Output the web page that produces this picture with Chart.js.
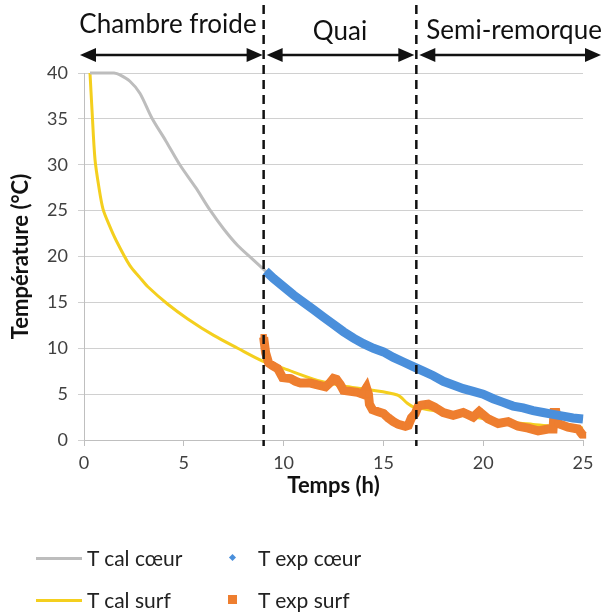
<!DOCTYPE html>
<html>
<head>
<meta charset="utf-8">
<script src="https://cdn.jsdelivr.net/npm/chart.js@4.4.1/dist/chart.umd.min.js"></script>
<title>Température chambre froide - quai - semi-remorque</title>
<style>
  body { margin: 0; background: #fff; }
  #wrap { position: relative; width: 607px; height: 614px; }
  .leg { position: absolute; height: 24px; line-height: 24px; font-family: Lato, sans-serif; font-size: 21px; color: #222; white-space: nowrap; }
  .trait { position: absolute; top: 11px; height: 3px; width: 46px; }
  .losange { position: absolute; top: 9px; width: 5px; height: 5px; transform: rotate(45deg); }
  .carre { position: absolute; top: 7px; width: 9px; height: 9px; }
</style>
</head>
<body>
<div id="wrap">
  <canvas id="myChart" width="607" height="614"></canvas>
  <div class="leg" style="left:36px; top:546px;"><span class="trait" style="left:0; background:#BDBDBD;"></span><span style="margin-left:51px;">T cal cœur</span></div>
  <div class="leg" style="left:228px; top:546px;"><span class="losange" style="left:2px; background:#4A8FDB;"></span><span style="margin-left:30px;">T exp cœur</span></div>
  <div class="leg" style="left:36px; top:588px;"><span class="trait" style="left:0; background:#F4CF1E;"></span><span style="margin-left:51px;">T cal surf</span></div>
  <div class="leg" style="left:228px; top:588px;"><span class="carre" style="left:0; background:#EE7E2F;"></span><span style="margin-left:30px;">T exp surf</span></div>
</div>
<script>
// T cal coeur (modèle)
var calCoeurTemps = [0.3, 1.0, 1.5, 1.8, 2.3, 2.8, 3.4, 4.1, 4.8, 5.6, 6.3, 7.0, 7.7, 8.4, 9.0, 10, 11, 12, 13, 14, 15, 16, 17, 18, 19, 20, 21, 22, 23, 24, 25];
var calCoeurVal = [40.0, 40.0, 40.0, 39.8, 39.1, 37.8, 35.1, 32.6, 30.0, 27.5, 25.1, 23.0, 21.2, 19.8, 18.6, 16.6, 14.9, 13.3, 11.8, 10.5, 9.5, 8.5, 7.5, 6.4, 5.6, 4.9, 4.1, 3.5, 3.0, 2.6, 2.3];

// T cal surf (modèle)
var calSurfTemps = [0.3, 0.35, 0.4, 0.55, 0.75, 0.95, 1.25, 1.6, 2.3, 2.8, 3.2, 4.2, 5.2, 6.5, 7.7, 8.95, 10.0, 11.7, 13.0, 14.2, 15.7, 16.2, 16.5, 17.0, 17.5, 18.5, 19.5, 20.5, 21.5, 22.5, 23.5, 24.5, 25.0];
var calSurfVal = [40.0, 38.0, 36.0, 30.6, 27.5, 25.2, 23.5, 21.8, 19.0, 17.7, 16.7, 14.8, 13.2, 11.4, 10.0, 8.6, 7.8, 6.5, 5.9, 5.5, 4.9, 4.0, 3.6, 3.4, 3.2, 2.8, 2.5, 2.2, 1.9, 1.7, 1.5, 1.4, 1.3];

// T exp coeur (mesures)
var expCoeurTemps = [9.1, 9.5, 10, 10.5, 11, 11.5, 12, 12.5, 13, 13.5, 14, 14.5, 15, 15.5, 16, 16.5, 17, 17.5, 18, 18.5, 19, 19.5, 20, 20.5, 21, 21.5, 22, 22.5, 23, 23.5, 24, 24.5, 25];
var expCoeurVal = [18.4, 17.6, 16.7, 15.8, 15.0, 14.2, 13.4, 12.6, 11.8, 11.1, 10.5, 10.0, 9.6, 9.0, 8.5, 8.0, 7.5, 7.0, 6.4, 6.0, 5.6, 5.3, 5.0, 4.5, 4.1, 3.7, 3.5, 3.2, 3.0, 2.8, 2.6, 2.4, 2.3];

// T exp surf (mesures)
var expSurfTemps = [9.0, 9.1, 9.25, 9.45, 9.7, 9.85, 9.95, 10.35, 10.6, 10.85, 11.35, 11.7, 12.1, 12.35, 12.5, 12.65, 12.85, 13.0, 13.35, 13.7, 13.95, 14.15, 14.25, 14.3, 14.45, 14.7, 15.0, 15.25, 15.5, 15.75, 16.1, 16.25, 16.4, 16.6, 16.75, 16.9, 17.25, 17.55, 18.0, 18.5, 19.0, 19.5, 19.8, 20.25, 20.75, 21.25, 21.75, 22.25, 22.75, 23.25, 23.5, 23.55, 23.65, 23.75, 24.25, 24.75, 25.0];
var expSurfVal = [11.2, 9.5, 8.4, 8.1, 7.8, 7.2, 6.8, 6.7, 6.4, 6.2, 6.2, 6.0, 5.8, 6.3, 6.7, 6.6, 6.0, 5.4, 5.3, 5.2, 5.0, 5.7, 5.0, 3.9, 3.3, 3.1, 2.9, 2.4, 2.0, 1.7, 1.5, 1.6, 2.4, 2.9, 3.7, 3.8, 3.9, 3.6, 3.0, 2.7, 3.0, 2.5, 3.1, 2.3, 1.8, 2.0, 1.5, 1.3, 1.0, 1.2, 1.2, 3.0, 3.0, 1.8, 1.4, 1.2, 0.5];

// zones
var limites = [9.0, 16.65];
var zones = ['Chambre froide', 'Quai', 'Semi-remorque'];

function points(xs, ys) {
  return xs.map(function (x, i) { return {x: x, y: ys[i]}; });
}

function fleche(ctx, a, b, y) {
  var L = 16, H = 7;
  ctx.beginPath();
  ctx.moveTo(a + L - 2, y);
  ctx.lineTo(b - L + 2, y);
  ctx.stroke();
  ctx.beginPath();
  ctx.moveTo(a, y); ctx.lineTo(a + L, y - H); ctx.lineTo(a + L, y + H); ctx.closePath();
  ctx.fill();
  ctx.beginPath();
  ctx.moveTo(b, y); ctx.lineTo(b - L, y - H); ctx.lineTo(b - L, y + H); ctx.closePath();
  ctx.fill();
}

var zonesPlugin = {
  id: 'zones',
  afterDraw: function (chart) {
    var ctx = chart.ctx;
    var area = chart.chartArea;
    var x1 = chart.scales.x.getPixelForValue(limites[0]);
    var x2 = chart.scales.x.getPixelForValue(limites[1]);
    ctx.save();
    ctx.strokeStyle = '#111';
    ctx.fillStyle = '#111';
    ctx.lineWidth = 2.5;
    ctx.setLineDash([9, 6]);
    [x1, x2].forEach(function (px) {
      ctx.beginPath();
      ctx.moveTo(px, 5);
      ctx.lineTo(px, area.bottom + 6);
      ctx.stroke();
    });
    ctx.setLineDash([]);
    var y = 55;
    fleche(ctx, area.left - 4, x1 - 1, y);
    fleche(ctx, x1 + 3, x2 - 2, y);
    fleche(ctx, x2 + 3, area.right + 18, y);

    ctx.font = '26px Lato';
    ctx.textBaseline = 'alphabetic';
    ctx.textAlign = 'right';
    ctx.fillText(zones[0], x1 - 7, 33);
    ctx.textAlign = 'center';
    ctx.fillText(zones[1], (x1 + x2) / 2, 40);
    ctx.textAlign = 'left';
    ctx.fillText(zones[2], x2 + 10, 39);
    ctx.restore();
  }
};

var chart = new Chart(document.getElementById('myChart'), {
  type: 'scatter',
  data: {
    datasets: [{
      label: 'T exp cœur',
      data: points(expCoeurTemps, expCoeurVal),
      showLine: true,
      borderColor: '#4A8FDB',
      backgroundColor: '#4A8FDB',
      borderWidth: 9,
      pointRadius: 0,
      clip: false
    }, {
      label: 'T exp surf',
      data: points(expSurfTemps, expSurfVal),
      showLine: true,
      borderColor: '#EE7E2F',
      backgroundColor: '#EE7E2F',
      borderWidth: 9,
      borderJoinStyle: 'miter',
      pointStyle: 'rect',
      pointRadius: 4.5,
      pointBorderWidth: 0,
      clip: false
    }, {
      label: 'T cal cœur',
      data: points(calCoeurTemps, calCoeurVal),
      showLine: true,
      borderColor: '#BDBDBD',
      borderWidth: 3,
      pointRadius: 0,
      tension: 0.3,
      clip: false
    }, {
      label: 'T cal surf',
      data: points(calSurfTemps, calSurfVal),
      showLine: true,
      borderColor: '#F4CF1E',
      borderWidth: 3,
      pointRadius: 0,
      tension: 0.3,
      clip: false
    }]
  },
  options: {
    responsive: false,
    animation: false,
    layout: { padding: { top: 73, left: 0, right: 24, bottom: 115 } },
    plugins: {
      legend: { display: false },
      tooltip: { enabled: false }
    },
    scales: {
      x: {
        type: 'linear',
        min: 0,
        max: 25,
        afterFit: function (scale) { scale.height = 59; },
        ticks: { stepSize: 5, padding: 6, color: '#404040', font: { family: 'Lato', size: 18 } },
        grid: { drawOnChartArea: false, drawTicks: true, tickLength: 6, color: '#BFBFBF' },
        border: { color: '#BFBFBF' },
        title: { display: true, text: 'Temps (h)', color: '#111', padding: { top: 0, bottom: 0 }, font: { family: 'Lato', size: 22, weight: 'bold' } }
      },
      y: {
        min: 0,
        max: 40,
        afterFit: function (scale) { scale.width = 84; },
        ticks: { stepSize: 5, padding: 10, color: '#404040', font: { family: 'Lato', size: 18 } },
        grid: { color: '#D0D0D0', tickLength: 6 },
        border: { color: '#BFBFBF' },
        title: { display: true, text: 'Température (°C)', color: '#111', padding: { top: 8, bottom: 0 }, font: { family: 'Lato', size: 22, weight: 'bold' } }
      }
    }
  },
  plugins: [zonesPlugin]
});
</script>
</body>
</html>
